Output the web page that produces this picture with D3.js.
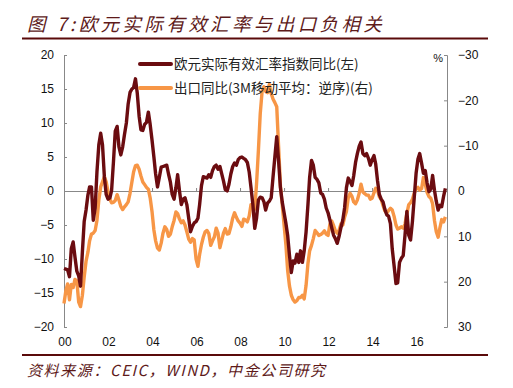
<!DOCTYPE html>
<html>
<head>
<meta charset="utf-8">
<script src="https://cdn.jsdelivr.net/npm/d3@7"></script>
<style>
body { margin: 0; background: #fff; }
svg { display: block; }
</style>
</head>
<body>
<script>
// monthly data, starting Jan 2000
var startMonth = new Date(2000, 0, 1);

var eurReer = [
  -11.4, -11.5, -11.6, -12.6, -8.5, -7.5, -9.7, -11.8, -12.5, -14.0,
  -9.0, -4.5, -2.8, -0.6, 0.6, 0.6, -4.3, -2.5, 2.8, 6.8,
  8.5, 6.8, 2.1, -0.5, -1.2, -1.0, 0.1, 4.3, 8.8, 9.5,
  6.5, 5.3, 6.5, 8.3, 10.0, 12.8, 14.5, 15.0, 15.2, 16.5,
  14.4, 11.0, 9.0, 8.9, 9.8, 10.1, 11.6, 9.8, 7.5, 5.0,
  2.5, 0.6, 2.0, 3.5, 3.6, 3.7, 3.8, 2.5, 1.3, -0.5,
  -1.2, 0.5, 2.4, 0.0, -2.0, -1.2, -1.0, -2.0, -4.0, -6.0,
  -5.2, -4.7, -4.5, -4.0, -2.0, 0.8, 2.1, 2.0, 1.9, 2.4,
  2.0, 3.0, 3.6, 3.8, 3.2, 3.6, 2.6, 1.5, 0.2, 0.0,
  1.0, 2.5, 3.6, 4.1, 3.8, 4.6, 4.9, 5.0, 4.8, 4.6,
  4.2, 2.8, 0.5, -2.0, -5.5, -4.0, -1.3, -0.9, -1.0, -1.6,
  -2.8, -1.8, -1.5, -1.0, 2.0, 5.0, 8.0, 4.5, 0.5, -1.6,
  -3.2, -4.8, -6.5, -9.5, -12.0, -10.3, -10.6, -9.3, -10.5, -8.8,
  -10.5, -8.8, -6.0, -2.0, 2.0, 4.5, 3.8, 2.0, 1.7, 1.2,
  -0.3, -0.5, -1.2, -2.5, -3.2, -4.3, -5.4, -6.5, -7.0, -7.7,
  -6.7, -5.4, -4.3, -2.5, 0.5, 1.9, 1.4, 0.8, 2.2, 4.2,
  5.5, 6.6, 7.2, 5.5, 5.2, 5.5, 4.8, 3.8, 4.6, 5.2,
  4.0, 1.5, -0.5, -1.2, -1.6, -2.7, -3.5, -3.7, -4.8, -8.5,
  -11.0, -13.6, -13.5, -10.5, -9.9, -9.5, -6.5, -3.0, -6.5, -7.2,
  -4.5, -1.0, 2.6, 4.7, 5.5, 4.1, 2.6, 3.0, 1.2, -0.1,
  0.3, 2.3, 0.1, -1.5, -2.8, -2.1, -2.3, -0.8, 0.4
];

var exportYoy = [
  24.8, 22.0, 20.5, 24.0, 20.6, 21.3, 19.5, 19.8, 24.5, 25.5,
  23.0, 19.0, 15.5, 13.5, 11.0, 9.5, 9.3, 8.7, 6.5, 2.0,
  -0.9, -2.0, -3.1, -2.0, 0.2, 1.8, 2.6, 2.5, 2.1, 0.8,
  2.0, 3.4, 4.1, 3.5, 3.0, 2.4, 0.5, -2.0, -4.2, -5.6,
  -5.7, -4.8, -3.3, -2.0, -1.4, -0.8, -0.4, 1.5, 4.5, 8.6,
  11.0, 12.6, 13.0, 11.5, 9.3, 7.9, 8.5, 10.0, 9.5, 7.9,
  6.5, 4.6, 5.0, 6.2, 7.0, 6.6, 7.5, 9.0, 10.6, 11.3,
  10.5, 10.8, 15.0, 16.6, 14.0, 11.8, 10.2, 9.0, 8.7, 9.4,
  12.0, 11.0, 10.1, 8.2, 9.3, 12.5, 11.0, 9.3, 8.3, 9.5,
  9.4, 7.9, 6.0, 4.8, 5.8, 6.6, 7.1, 7.8, 6.2, 6.4,
  6.8, 5.5, 3.0, 3.2, 4.0, -1.6, -9.0, -17.0, -22.0, -23.0,
  -22.0, -21.7, -23.5, -21.5, -20.3, -19.5, -18.6, -10.0, -1.2, 3.0,
  7.5, 12.0, 17.5, 21.0, 23.0, 24.0, 24.5, 24.2, 23.5, 23.5,
  23.0, 23.8, 20.8, 16.0, 13.2, 12.0, 10.5, 8.7, 9.2, 9.8,
  9.6, 9.3, 8.8, 9.5, 9.8, 7.3, 6.6, 7.6, 8.8, 9.3,
  8.7, 7.3, 7.5, 5.8, 4.5, 1.5, 0.5, 1.2, 2.4, 2.8,
  2.0, 0.5, -1.5, 0.2, 0.6, 0.9, 0.9, 1.8, 1.6, 0.4,
  -0.6, -0.2, 1.3, 1.9, 3.2, 4.4, 4.9, 4.3, 3.8, 4.2,
  5.6, 7.5, 8.4, 8.2, 7.9, 8.2, 7.3, 5.0, 3.0, 2.6,
  1.8, 0.5, -0.5, -0.8, -0.2, -0.5, -3.0, -1.5, 0.3, 1.2,
  1.6, 2.8, 6.5, 9.0, 10.2, 8.0, 6.3, 6.8, 5.7
];

var leftTicks = [20, 15, 10, 5, 0, -5, -10, -15, -20];
var rightTicks = [-30, -20, -10, 0, 10, 20, 30];
var yearTicks = [2000, 2002, 2004, 2006, 2008, 2010, 2012, 2014, 2016];
var seriesNames = ["欧元实际有效汇率指数同比(左)", "出口同比(3M移动平均：逆序)(右)"];
var colors = ["#6b0c10", "#f79646"];

var titleText = "图 7:欧元实际有效汇率与出口负相关";
var sourceText = "资料来源：CEIC，WIND，中金公司研究";

var numFont = "'Liberation Sans', Arial, sans-serif";
var cjkFont = "'Noto Sans CJK SC', sans-serif";

var svg = d3.select("body").append("svg")
    .attr("width", 513)
    .attr("height", 388);

var x = d3.scaleTime()
    .domain([startMonth, new Date(2017, 4, 28)])
    .range([64, 447]);

var yL = d3.scaleLinear().domain([-20, 20]).range([327, 55]);
var yR = d3.scaleLinear().domain([30, -30]).range([327, 55]);

function monthOf(i) { return d3.timeMonth.offset(startMonth, i); }

// title + rules
svg.append("text")
    .attr("x", 27)
    .attr("y", 31)
    .attr("font-family", cjkFont)
    .attr("font-style", "italic")
    .attr("font-size", 18.5)
    .attr("letter-spacing", 3.4)
    .attr("fill", "#5e1a1a")
    .text(titleText);

svg.append("line")
    .attr("x1", 22).attr("x2", 488)
    .attr("y1", 38.5).attr("y2", 38.5)
    .attr("stroke", "#5a0a0a")
    .attr("stroke-width", 2.2);

svg.append("line")
    .attr("x1", 22).attr("x2", 488)
    .attr("y1", 355).attr("y2", 355)
    .attr("stroke", "#5a0a0a")
    .attr("stroke-width", 2.2);

svg.append("text")
    .attr("x", 27)
    .attr("y", 376)
    .attr("font-family", cjkFont)
    .attr("font-style", "italic")
    .attr("font-size", 15)
    .attr("letter-spacing", 1.6)
    .attr("fill", "#5e1a1a")
    .text(sourceText);

// axes
var leftAxis = d3.axisLeft(yL)
    .tickValues(leftTicks)
    .tickSizeInner(-3)
    .tickSizeOuter(-3)
    .tickPadding(10);

var rightAxis = d3.axisRight(yR)
    .tickValues(rightTicks)
    .tickSizeInner(-3)
    .tickSizeOuter(-3)
    .tickPadding(11);

var gL = svg.append("g")
    .attr("transform", "translate(64,0)")
    .call(leftAxis);

var gR = svg.append("g")
    .attr("transform", "translate(447,0)")
    .call(rightAxis);

[gL, gR].forEach(function(g){
  g.selectAll("path, line").attr("stroke", "#888");
  g.selectAll("text")
    .attr("font-family", numFont)
    .attr("font-size", 12)
    .attr("fill", "#111");
});

// zero line with small year ticks
var zeroAxis = d3.axisTop(x)
    .tickValues(yearTicks.map(function(d){ return new Date(d, 0, 1); }))
    .tickSizeInner(3)
    .tickSizeOuter(0)
    .tickFormat("");

svg.append("g")
    .attr("transform", "translate(0," + yL(0) + ")")
    .call(zeroAxis)
    .selectAll("path, line").attr("stroke", "#888");

// year labels at the bottom
svg.append("g").selectAll("text")
    .data(yearTicks)
    .enter().append("text")
    .attr("x", function(d){ return x(new Date(d, 0, 1)) + 1; })
    .attr("y", 346)
    .attr("text-anchor", "middle")
    .attr("font-family", numFont)
    .attr("font-size", 12)
    .attr("fill", "#111")
    .text(function(d){ return String(d).slice(2); });

svg.append("text")
    .attr("x", 443)
    .attr("y", 62)
    .attr("text-anchor", "end")
    .attr("font-family", numFont)
    .attr("font-size", 11)
    .attr("fill", "#111")
    .text("%");

// lines
var lineL = d3.line()
    .x(function(d, i){ return x(monthOf(i)); })
    .y(function(d){ return yL(d); });

var lineR = d3.line()
    .x(function(d, i){ return x(monthOf(i)); })
    .y(function(d){ return yR(d); });

svg.append("path")
    .datum(exportYoy)
    .attr("d", lineR)
    .attr("fill", "none")
    .attr("stroke", colors[1])
    .attr("stroke-width", 3.4)
    .attr("stroke-linejoin", "round");

svg.append("path")
    .datum(eurReer)
    .attr("d", lineL)
    .attr("fill", "none")
    .attr("stroke", colors[0])
    .attr("stroke-width", 3.4)
    .attr("stroke-linejoin", "round");

// legend
var legend = svg.append("g").selectAll("g")
    .data(seriesNames)
    .enter().append("g")
    .attr("transform", function(d, i){ return "translate(140," + (64 + i * 24) + ")"; });

legend.append("line")
    .attr("x1", 0).attr("x2", 31)
    .attr("stroke", function(d, i){ return colors[i]; })
    .attr("stroke-width", 4)
    .attr("stroke-linecap", "round");

legend.append("text")
    .attr("x", 34)
    .attr("y", 5)
    .attr("font-family", cjkFont)
    .attr("font-size", 13.5)
    .attr("fill", "#222")
    .text(function(d){ return d; });
</script>
</body>
</html>
